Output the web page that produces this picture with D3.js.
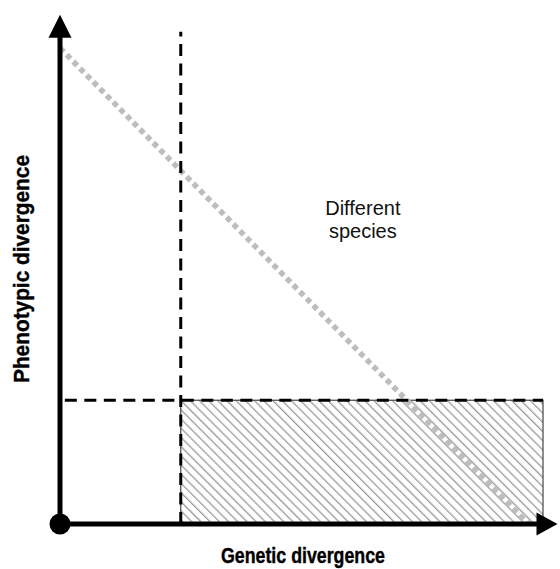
<!DOCTYPE html>
<html>
<head>
<meta charset="utf-8">
<script src="https://cdn.jsdelivr.net/npm/d3@7"></script>
<style>
  html, body { margin: 0; padding: 0; background: #fff; }
  svg { display: block; }
</style>
</head>
<body>
<div id="chart"></div>
<script>
// ---- data (abstract units 0..100) ----
const xAxisLabel = "Genetic divergence";
const yAxisLabel = "Phenotypic divergence";
const regionLabel = ["Different", "species"];
const geneticThreshold = [25];          // vertical dashed line
const phenotypicThreshold = [26];       // horizontal dashed line
const speciesRegion = [{x0: 25, x1: 100, y0: 0, y1: 26}];
const boundaryX = [0, 97];              // grey dotted trade-off line
const boundaryY = [100, 0];
const axisMax = {x: 103, y: 107};
const thresholdLineMax = {x: 100, y: 103.4};
const regionLabelPos = [62.7, 65];

const W = 560, H = 569;
const svg = d3.select("#chart").append("svg").attr("width", W).attr("height", H);

const x = d3.scaleLinear().domain([0, 100]).range([60, 543]);
const y = d3.scaleLinear().domain([0, 100]).range([524, 48]);

// hatch pattern
const defs = svg.append("defs");
const pat = defs.append("pattern")
  .attr("id", "hatch").attr("patternUnits", "userSpaceOnUse")
  .attr("width", 6.5).attr("height", 6.5)
  .attr("patternTransform", "rotate(-45)");
pat.append("line").attr("x1", 0).attr("y1", 0).attr("x2", 0).attr("y2", 6.5)
  .attr("stroke", "#9a9a9a").attr("stroke-width", 2.6);

// hatched region
svg.selectAll("rect.region").data(speciesRegion).enter().append("rect")
  .attr("class", "region")
  .attr("x", d => x(d.x0)).attr("y", d => y(d.y1))
  .attr("width", d => x(d.x1) - x(d.x0)).attr("height", d => y(d.y0) - y(d.y1))
  .attr("fill", "url(#hatch)").attr("stroke", "#444").attr("stroke-width", 1.2);

// grey dotted line
const pts = boundaryX.map((v, i) => [v, boundaryY[i]]);
svg.append("path")
  .attr("d", d3.line().x(d => x(d[0])).y(d => y(d[1]))(pts))
  .attr("fill", "none").attr("stroke", "#bdbdbd").attr("stroke-width", 5.5)
  .attr("stroke-dasharray", "5.5 4");

// dashed threshold lines
svg.selectAll("line.vthr").data(geneticThreshold).enter().append("line")
  .attr("x1", d => x(d)).attr("x2", d => x(d))
  .attr("y1", y(0)).attr("y2", y(thresholdLineMax.y))
  .attr("stroke", "#000").attr("stroke-width", 3).attr("stroke-dasharray", "12 7.5");
svg.selectAll("line.hthr").data(phenotypicThreshold).enter().append("line")
  .attr("x1", x(1)).attr("x2", x(thresholdLineMax.x))
  .attr("y1", d => y(d)).attr("y2", d => y(d))
  .attr("stroke", "#000").attr("stroke-width", 3).attr("stroke-dasharray", "12 7.5");

// axes
const ax = svg.append("g");
ax.append("line").attr("x1", x(0)).attr("x2", x(axisMax.x) - 12)
  .attr("y1", y(0)).attr("y2", y(0)).attr("stroke", "#000").attr("stroke-width", 5);
ax.append("line").attr("x1", x(0)).attr("x2", x(0))
  .attr("y1", y(0)).attr("y2", y(axisMax.y) + 12).attr("stroke", "#000").attr("stroke-width", 5);
// arrowheads
const tx = x(axisMax.x), ty = y(axisMax.y);
ax.append("path")
  .attr("d", `M${tx},${y(0)} L${tx - 21},${y(0) - 11.5} L${tx - 21},${y(0) + 11.5} Z`)
  .attr("fill", "#000");
ax.append("path")
  .attr("d", `M${x(0)},${ty} L${x(0) - 11.5},${ty + 23} L${x(0) + 11.5},${ty + 23} Z`)
  .attr("fill", "#000");
ax.append("circle").attr("cx", x(0)).attr("cy", y(0)).attr("r", 10.5).attr("fill", "#000");

// labels
svg.append("text").attr("x", 303).attr("y", 563)
  .attr("text-anchor", "middle")
  .attr("font-family", "Liberation Sans, Arial, sans-serif")
  .attr("font-weight", "bold").attr("font-size", 21.5)
  .attr("stroke", "#000").attr("stroke-width", 0.4)
  .attr("textLength", 164).attr("lengthAdjust", "spacingAndGlyphs")
  .text(xAxisLabel);
svg.append("text")
  .attr("transform", "translate(29,269) rotate(-90)")
  .attr("text-anchor", "middle")
  .attr("font-family", "Liberation Sans, Arial, sans-serif")
  .attr("font-weight", "bold").attr("font-size", 21.5)
  .attr("stroke", "#000").attr("stroke-width", 0.4)
  .attr("textLength", 228).attr("lengthAdjust", "spacingAndGlyphs")
  .text(yAxisLabel);

const rl = svg.append("text")
  .attr("x", x(regionLabelPos[0])).attr("y", y(regionLabelPos[1]))
  .attr("text-anchor", "middle")
  .attr("font-family", "Liberation Sans, Arial, sans-serif")
  .attr("font-size", 20).attr("fill", "#111");
regionLabel.forEach((t, i) => {
  rl.append("tspan").attr("x", x(regionLabelPos[0])).attr("dy", i === 0 ? 0 : 23).text(t);
});
</script>
</body>
</html>
